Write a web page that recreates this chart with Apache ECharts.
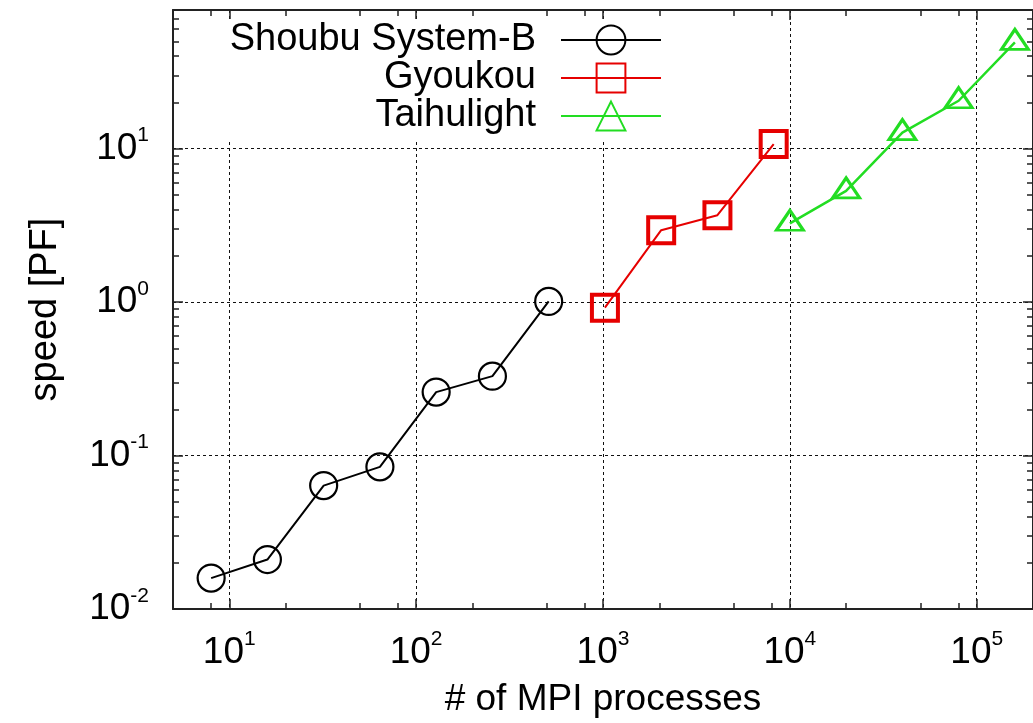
<!DOCTYPE html>
<html>
<head>
<meta charset="utf-8">
<title>speed [PF] vs # of MPI processes</title>
<script src="https://cdn.jsdelivr.net/npm/echarts@6/dist/echarts.min.js"></script>
<style>
  html, body { margin: 0; padding: 0; background: #fff; overflow: hidden; }
  #chart { width: 1033px; height: 723px; }
</style>
</head>
<body>
<div id="chart"></div>
<script>
  // 数据
  const shoubuProcs = [8, 16, 32, 64, 128, 256, 512]
  const shoubuSpeed = [0.0159, 0.021, 0.0637, 0.0844, 0.259, 0.329, 1.01]
  const gyoukouProcs = [1024, 2048, 4096, 8192]
  const gyoukouSpeed = [0.919, 2.94, 3.68, 10.7]
  const taihuProcs = [10000, 20000, 40000, 80000, 160000]
  const taihuSpeed = [3.26, 5.3, 12.7, 20.5, 49.2]

  // 刻度
  const xMajorTicks = [10, 100, 1000, 10000, 100000]
  const xMinorTicks = [8, 20, 50, 80, 200, 500, 800, 2000, 5000, 8000, 20000, 50000, 80000]
  const yMajorTicks = [0.01, 0.1, 1, 10]
  const yMinorTicks = [
    0.02, 0.03, 0.04, 0.05, 0.06, 0.07, 0.08, 0.09,
    0.2, 0.3, 0.4, 0.5, 0.6, 0.7, 0.8, 0.9,
    2, 3, 4, 5, 6, 7, 8, 9,
    20, 30, 40, 50, 60, 70
  ]

  const FONT = '"Liberation Sans", Arial, sans-serif'

  // 10^n 形式的标签
  function powLabel(v) {
    const e = Math.round(Math.log10(v))
    return '{b|10}{e|' + e + '}'
  }
  const powRich = {
    b: { fontSize: 37, fontFamily: FONT, color: '#000' },
    e: { fontSize: 21, fontFamily: FONT, color: '#000', padding: [0, 0, 26, 0] }
  }

  const borderLine = { show: true, onZero: false, lineStyle: { color: '#222', width: 2 } }
  const gridLine = { show: true, lineStyle: { color: '#111', width: 1, type: [3, 3] } }

  // 只画刻度的辅助轴（镜像边框 / 次刻度）
  function tickAxis(base, position, values, length, line) {
    return Object.assign({}, base, {
      position,
      axisLine: line ? borderLine : { show: false },
      axisTick: { show: true, inside: true, length, customValues: values, lineStyle: { color: '#222', width: 1.5 } },
      axisLabel: { show: false },
      splitLine: { show: false }
    })
  }

  const xBase = { type: 'log', logBase: 10, min: 5, max: 200000, gridIndex: 0 }
  const yBase = { type: 'log', logBase: 10, min: 0.01, max: 80, gridIndex: 0 }

  const xAxes = [
    Object.assign({}, xBase, {
      position: 'bottom',
      name: '# of MPI processes',
      nameLocation: 'middle',
      nameGap: 72,
      nameTextStyle: { fontSize: 37, fontFamily: FONT, color: '#000' },
      axisLine: borderLine,
      axisTick: { show: true, inside: true, length: 10, customValues: xMajorTicks, lineStyle: { color: '#222', width: 1.5 } },
      axisLabel: { customValues: xMajorTicks, margin: 20, formatter: powLabel, rich: powRich },
      splitLine: gridLine
    }),
    tickAxis(xBase, 'bottom', xMinorTicks, 6, false),
    tickAxis(xBase, 'top', xMajorTicks, 10, true),
    tickAxis(xBase, 'top', xMinorTicks, 6, false)
  ]

  const yAxes = [
    Object.assign({}, yBase, {
      position: 'left',
      name: 'speed [PF]',
      nameLocation: 'middle',
      nameGap: 108,
      nameTextStyle: { fontSize: 38, fontFamily: FONT, color: '#000' },
      axisLine: borderLine,
      axisTick: { show: true, inside: true, length: 10, customValues: yMajorTicks, lineStyle: { color: '#222', width: 1.5 } },
      axisLabel: { customValues: yMajorTicks, margin: 24, formatter: powLabel, rich: powRich },
      splitLine: gridLine
    }),
    tickAxis(yBase, 'left', yMinorTicks, 6, false),
    tickAxis(yBase, 'right', yMajorTicks, 10, true),
    tickAxis(yBase, 'right', yMinorTicks, 6, false)
  ]

  function makeSeries(name, xs, ys, color, symbol, size, lineWidth, borderWidth, offset) {
    return {
      name,
      type: 'line',
      xAxisIndex: 0,
      yAxisIndex: 0,
      data: xs.map((x, i) => [x, ys[i]]),
      symbol,
      symbolSize: size,
      symbolOffset: offset || [0, 0],
      showSymbol: true,
      lineStyle: { color, width: lineWidth },
      itemStyle: { color: 'rgba(0,0,0,0)', borderColor: color, borderWidth },
      emphasis: { disabled: true },
      z: 3
    }
  }

  const chart = echarts.init(document.getElementById('chart'), null, { renderer: 'canvas' })
  chart.setOption({
    animation: false,
    backgroundColor: '#fff',
    textStyle: { fontFamily: FONT },
    grid: { left: 173, right: -4, top: 10, bottom: 114, containLabel: false },
    legend: {
      orient: 'vertical',
      align: 'right',
      right: 367,
      top: 19,
      padding: [2, 4, 6, 22],
      backgroundColor: '#fff',
      itemWidth: 100,
      itemHeight: 36,
      itemGap: 0,
      selectedMode: false,
      textStyle: { fontSize: 38, fontFamily: FONT, color: '#000', padding: [0, 20, 0, 0] },
      data: ['Shoubu System-B', 'Gyoukou', 'Taihulight']
    },
    xAxis: xAxes,
    yAxis: yAxes,
    series: [
      makeSeries('Shoubu System-B', shoubuProcs, shoubuSpeed, '#000000', 'circle', 27, 2, 2.2),
      makeSeries('Gyoukou', gyoukouProcs, gyoukouSpeed, '#e60000', 'rect', 26, 2, 4),
      makeSeries('Taihulight', taihuProcs, taihuSpeed, '#22dd22', 'triangle', [27, 20], 2.5, 3, [0, -3])
    ]
  })
</script>
</body>
</html>
